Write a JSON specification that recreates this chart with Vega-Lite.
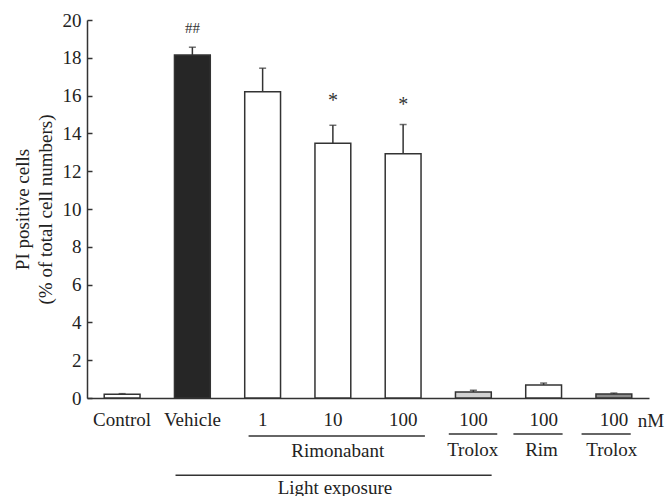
{
  "$schema": "https://vega.github.io/schema/vega-lite/v6.json",
  "width": 562,
  "height": 378,
  "autosize": {"type": "none"},
  "padding": {"left": 87, "top": 20, "right": 17, "bottom": 98},
  "config": {
    "font": "Liberation Serif",
    "view": {"stroke": null},
    "axisY": {
      "labelOverlap": false, "grid": false, "tickSize": -5, "tickColor": "#333", "tickWidth": 1.5,
      "domainColor": "#333", "domainWidth": 1.5, "labelFontSize": 19, "labelColor": "#222", "labelPadding": 11,
      "titleFontSize": 19, "titleFontWeight": "normal", "titleColor": "#222", "titlePadding": 7, "titleLineHeight": 23
    }
  },
  "resolve": {"scale": {"x": "independent", "y": "independent"}},
  "layer": [
    {
      "data": {"values": [
        {"g": "Control", "v": 0.2, "e": 0.23, "kind": "white"},
        {"g": "Vehicle", "v": 18.15, "e": 18.56, "kind": "black"},
        {"g": "R1", "v": 16.2, "e": 17.45, "kind": "white"},
        {"g": "R10", "v": 13.48, "e": 14.43, "kind": "white"},
        {"g": "R100", "v": 12.92, "e": 14.47, "kind": "white"},
        {"g": "T100", "v": 0.32, "e": 0.41, "kind": "light"},
        {"g": "Rim100", "v": 0.69, "e": 0.79, "kind": "white"},
        {"g": "T2", "v": 0.21, "e": 0.26, "kind": "mid"}
      ]},
      "layer": [
        {
          "mark": {"type": "rule", "color": "#333", "strokeWidth": 1.5},
          "encoding": {
            "x": {"field": "g", "type": "nominal", "sort": ["Control", "Vehicle", "R1", "R10", "R100", "T100", "Rim100", "T2"]},
            "y": {"field": "v", "type": "quantitative", "scale": {"domain": [0, 20], "nice": false},
              "axis": {"values": [0, 2, 4, 6, 8, 10, 12, 14, 16, 18, 20], "title": ["PI positive cells", "(% of total cell numbers)"]}},
            "y2": {"field": "e"}
          }
        },
        {
          "mark": {"type": "tick", "color": "#333", "thickness": 1.5, "size": 7},
          "encoding": {
            "x": {"field": "g", "type": "nominal", "sort": ["Control", "Vehicle", "R1", "R10", "R100", "T100", "Rim100", "T2"]},
            "y": {"field": "e", "type": "quantitative", "scale": {"domain": [0, 20], "nice": false},
              "axis": {"values": [0, 2, 4, 6, 8, 10, 12, 14, 16, 18, 20], "title": ["PI positive cells", "(% of total cell numbers)"]}}
          }
        },
        {
          "mark": {"type": "bar", "stroke": "#333", "strokeWidth": 1.5},
          "encoding": {
            "x": {
              "field": "g", "type": "nominal", "sort": ["Control", "Vehicle", "R1", "R10", "R100", "T100", "Rim100", "T2"],
              "scale": {"paddingInner": 0.49, "paddingOuter": 0.245},
              "axis": {
                "title": null, "labelAngle": 0, "ticks": false, "tickSize": 0,
                "labelAlign": "center", "labelBaseline": "top",
                "labelPadding": 12, "labelFontSize": 19, "labelColor": "#222",
                "domainColor": "#333", "domainWidth": 1.5,
                "labelExpr": "datum.value == 'R1' ? '1' : datum.value == 'R10' ? '10' : (datum.value == 'R100' || datum.value == 'T100' || datum.value == 'Rim100' || datum.value == 'T2') ? '100' : datum.value"
              }
            },
            "y": {
              "field": "v", "type": "quantitative",
              "scale": {"domain": [0, 20], "nice": false},
              "axis": {"values": [0, 2, 4, 6, 8, 10, 12, 14, 16, 18, 20], "title": ["PI positive cells", "(% of total cell numbers)"]}
            },
            "fill": {
              "field": "kind", "type": "nominal",
              "scale": {"domain": ["white", "black", "light", "mid"], "range": ["#ffffff", "#262626", "#d2d2d2", "#8c8c8c"]},
              "legend": null
            }
          }
        },
        {
          "data": {"values": [
            {"g": "Vehicle", "y": 19.6, "t": "##", "s": 15},
            {"g": "R10", "y": 15.7, "t": "*", "s": 20},
            {"g": "R100", "y": 15.5, "t": "*", "s": 20}
          ]},
          "mark": {"type": "text", "color": "#333", "baseline": "middle"},
          "encoding": {
            "x": {"field": "g", "type": "nominal", "sort": ["Control", "Vehicle", "R1", "R10", "R100", "T100", "Rim100", "T2"]},
            "y": {"field": "y", "type": "quantitative", "scale": {"domain": [0, 20], "nice": false},
              "axis": {"values": [0, 2, 4, 6, 8, 10, 12, 14, 16, 18, 20], "title": ["PI positive cells", "(% of total cell numbers)"]}},
            "text": {"field": "t"},
            "size": {"field": "s", "type": "quantitative", "scale": null}
          }
        }
      ]
    },
    {
      "layer": [
        {
          "data": {"values": [
            {"a": 2.3, "b": 4.81, "y": -2.01},
            {"a": 5.15, "b": 5.84, "y": -1.9},
            {"a": 6.07, "b": 6.77, "y": -1.9},
            {"a": 7.04, "b": 7.74, "y": -1.9},
            {"a": 1.26, "b": 5.76, "y": -4.09}
          ]},
          "mark": {"type": "rule", "color": "#333", "strokeWidth": 1.5},
          "encoding": {
            "x": {"field": "a", "type": "quantitative", "scale": {"domain": [0, 8], "nice": false}, "axis": null},
            "x2": {"field": "b"},
            "y": {"field": "y", "type": "quantitative", "scale": {"domain": [0, 20], "nice": false}, "axis": null}
          }
        },
        {
          "data": {"values": [
            {"x": 3.57, "y": -2.78, "t": "Rimonabant", "al": "center"},
            {"x": 5.49, "y": -2.75, "t": "Trolox", "al": "center"},
            {"x": 6.47, "y": -2.75, "t": "Rim", "al": "center"},
            {"x": 7.47, "y": -2.75, "t": "Trolox", "al": "center"},
            {"x": 7.84, "y": -1.22, "t": "nM", "al": "left"},
            {"x": 3.53, "y": -4.74, "t": "Light exposure", "al": "center"}
          ]},
          "mark": {"type": "text", "fontSize": 19, "color": "#222", "baseline": "middle", "align": {"expr": "datum.al"}},
          "encoding": {
            "x": {"field": "x", "type": "quantitative", "scale": {"domain": [0, 8], "nice": false}, "axis": null},
            "y": {"field": "y", "type": "quantitative", "scale": {"domain": [0, 20], "nice": false}, "axis": null},
            "text": {"field": "t"}
          }
        }
      ]
    }
  ]
}
